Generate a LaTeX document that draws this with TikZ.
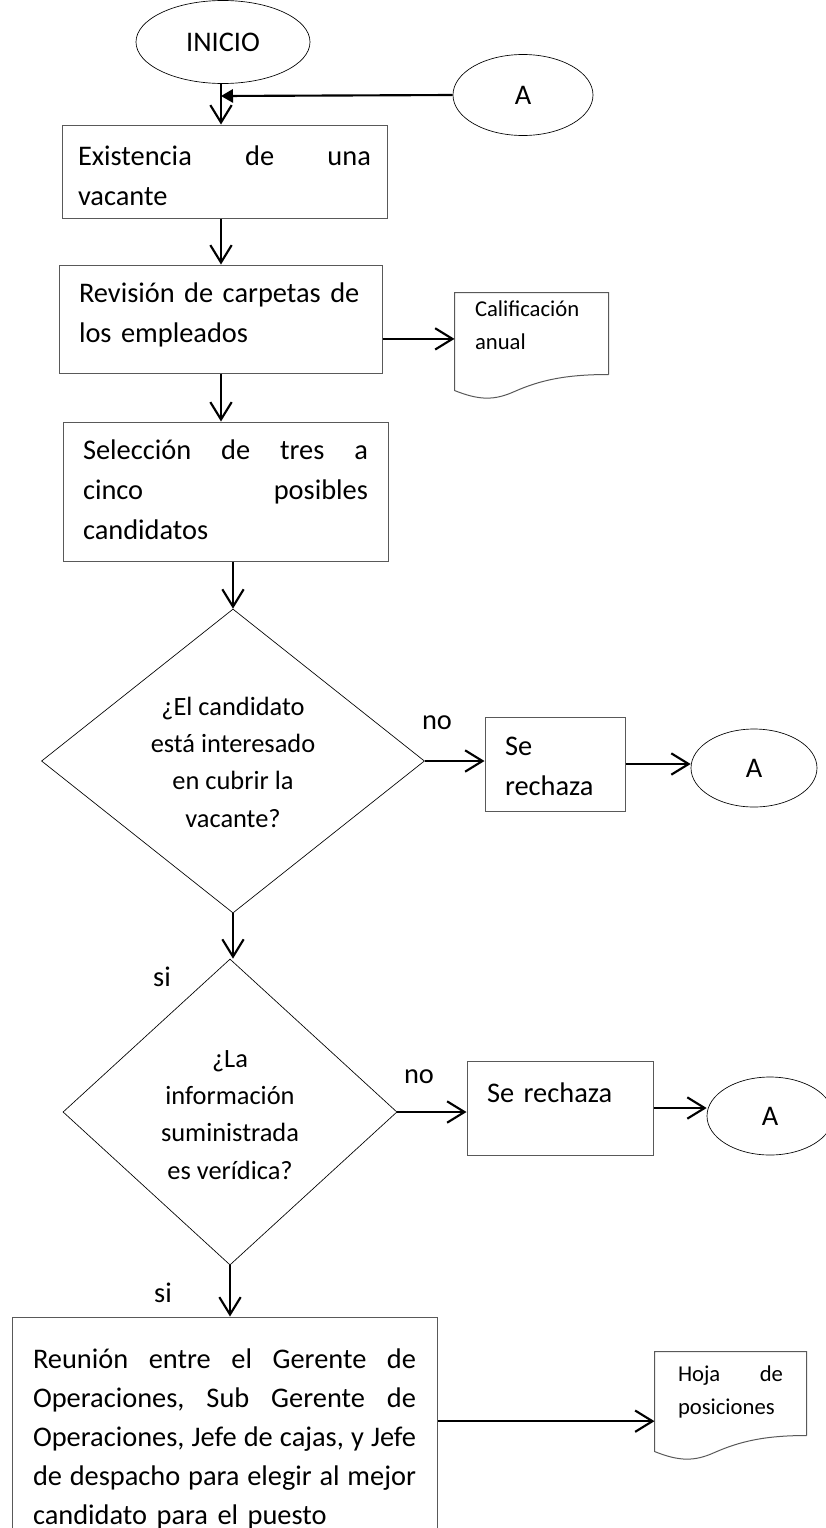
\documentclass[tikz,border=0pt]{standalone}
\usepackage{fontspec}
\setmainfont{Carlito}
\usetikzlibrary{shapes.geometric,arrows.meta,calc}

\tikzset{every picture/.style={line width=0.75pt}}
\tikzset{
	boxtext/.style={font=\fontsize{21.3}{30}\selectfont},
	procbox/.style={draw={rgb, 255:red, 89; green, 89; blue, 89}, rectangle, inner sep=0pt, align=left, boxtext, text height=0pt},
	termshape/.style={draw, line width=0.5pt, ellipse, inner sep=0pt, boxtext},
	question/.style={draw, line width=0.5pt, diamond, inner sep=0pt, align=center, font=\fontsize{19.8}{28}\selectfont, text depth=0pt},
	docshape/.style={rectangle, inner sep=0pt, align=left, font=\fontsize{17}{24.75}\selectfont, text height=0pt},
	flow/.style={line width=1.6pt, -{Straight Barb[length=13pt,width=16pt]}},
	back/.style={line width=1.6pt, -{Triangle[length=9pt,width=10pt]}},
	answer/.style={inner sep=0pt, boxtext}
}
% paper sheet with wavy bottom, drawn round a docshape node
\newcommand{\docoutline}[1]{%
	\draw[draw={rgb, 255:red, 89; green, 89; blue, 89}] (#1.south east) -- (#1.north east) -- (#1.north west) -- ($(#1.south west)+(0,16)$) .. controls ($(#1.south west)+(25,26)$) and ($(#1.south west)+(40,26)$) .. ($(#1.south west)+(60,17)$) .. controls ($(#1.south west)+(85,6)$) and ($(#1.south west)+(110,0)$) .. (#1.south east);}

\begin{document}
\begin{tikzpicture}[x=0.75pt,y=0.75pt,yscale=-1,xscale=1]
				\useasboundingbox (0,0) rectangle (825,1528);
				%Shape: Ellipse
				\node[termshape, minimum width=130.5pt, minimum height=62.25pt] (inicio) at (223,42) {INICIO};
				%Shape: Ellipse
				\node[termshape, minimum width=105pt, minimum height=60.75pt] (conA) at (523,95) {A};
				\coordinate (merge) at (221,96);
				%Shape: Rectangle
				\node[procbox, minimum width=243.75pt, minimum height=69.75pt, text width=219.75pt, text depth=9.75pt] (exist) at (224.5,171.5) {Existencia\hfill de\hfill una\\vacante};
				%Shape: Rectangle
				\node[procbox, minimum width=242.25pt, minimum height=81pt, text width=212.25pt, text depth=25.5pt] (review) at (220.5,319) {Revisión de carpetas de\\los empleados};
				%Shape: Document
				\node[docshape, minimum width=114.75pt, minimum height=60.75pt, text width=84.75pt, text depth=26.25pt] (doc1) at (531.5,333.5) {Calificación\\anual};
				\docoutline{doc1}
				%Shape: Rectangle
				\node[procbox, minimum width=243.75pt, minimum height=104.25pt, text width=213.75pt, text depth=48.75pt] (select) at (225.5,491.5) {Selección\hfill de\hfill tres\hfill a\\cinco\hfill posibles\\candidatos};
				%Shape: Diamond
				\node[question, minimum width=287.25pt, minimum height=228pt, text height=99pt] (interest) at (233,761) {¿El candidato\\está interesado\\en cubrir la\\vacante?};
				%Shape: Rectangle
				\node[procbox, minimum width=105pt, minimum height=70.5pt, text width=75pt, text depth=13.5pt] (reject1) at (555,764) {Se\\rechaza};
				%Shape: Ellipse
				\node[termshape, minimum width=94.5pt, minimum height=58.5pt] (conA1) at (754,768) {A};
				%Shape: Diamond
				\node[question, minimum width=250.5pt, minimum height=229.5pt, text height=100.5pt] (truthful) at (230,1112) {¿La\\información\\suministrada\\es verídica?};
				%Shape: Rectangle
				\node[procbox, minimum width=139.5pt, minimum height=70.5pt, text width=109.5pt, text depth=9pt] (reject2) at (560,1108) {Se rechaza};
				%Shape: Ellipse
				\node[termshape, minimum width=94.5pt, minimum height=58.5pt] (conA2) at (770,1116) {A};
				%Shape: Rectangle
				\node[procbox, font=\fontsize{21.3}{29.25}\selectfont, minimum width=318.75pt, minimum height=167.25pt, text width=287.25pt, text depth=90pt] (meeting) at (224.5,1428.5) {Reunión\hfill entre\hfill el\hfill Gerente\hfill de\\Operaciones,\hfill Sub\hfill Gerente\hfill de\\Operaciones,\hfill Jefe\hfill de\hfill cajas,\hfill y\hfill Jefe\\de\hfill despacho\hfill para\hfill elegir\hfill al\hfill mejor\\candidato para el puesto};
				%Shape: Document
				\node[docshape, minimum width=113.25pt, minimum height=62.25pt, text width=78.75pt, text depth=18.75pt] (doc2) at (730.5,1393.5) {Hoja\hfill de\\posiciones};
				\docoutline{doc2}

				%Straight Lines
				\draw[flow] (inicio.south -| merge) -- (merge |- exist.north);
				\draw[back] (conA.west) -- (merge);
				\draw[flow] (exist.south -| merge) -- (merge |- review.north);
				\draw[flow] (review.east |- doc1.184) -- (doc1.184);
				\draw[flow] (review.south -| merge) -- (merge |- select.north);
				\draw[flow] (select.south -| interest.north) -- (interest.north);
				\draw[flow] (interest.east) -- (interest.east -| reject1.west);
				\draw[flow] (reject1.east) -- (reject1.east -| conA1.west);
				\draw[flow] (interest.south) -- (interest.south |- truthful.north);
				\draw[flow] (truthful.east) -- (truthful.east -| reject2.west);
				\draw[flow] (reject2.east) -- (reject2.east -| conA2.west);
				\draw[flow] (truthful.south) -- (truthful.south |- meeting.north);
				\draw[flow] (meeting.east |- doc2.200) -- (doc2.200);

				% Text Node
				\node[answer] (no1) at (437,723) {no};
				% Text Node
				\node[answer] (si1) at (162,977) {si};
				% Text Node
				\node[answer] (no2) at (419,1077) {no};
				% Text Node
				\node[answer] (si2) at (163,1293) {si};
\end{tikzpicture}
\end{document}
